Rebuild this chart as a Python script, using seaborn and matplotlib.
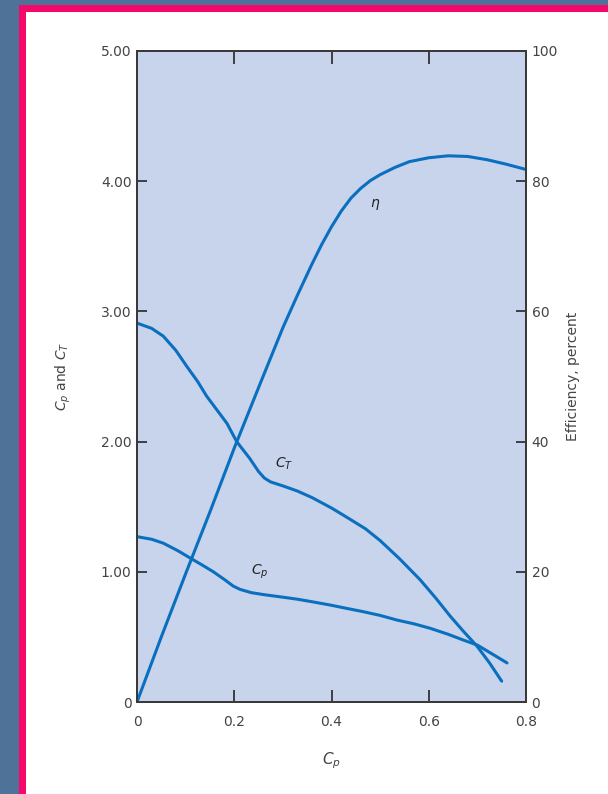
import numpy as np
import pandas as pd
import matplotlib
matplotlib.use("Agg")
import matplotlib.pyplot as plt
import seaborn as sns
from matplotlib.patches import Rectangle

# ---- data ----
eta_x = [0, 0.05, 0.10, 0.15, 0.20, 0.25, 0.30, 0.33, 0.36, 0.38, 0.40, 0.42, 0.44, 0.46,
         0.48, 0.50, 0.53, 0.56, 0.60, 0.64, 0.68, 0.72, 0.76, 0.80]
eta_y = [0, 10.0, 19.7, 29.2, 39.0, 48.3, 57.5, 62.5, 67.3, 70.3, 73.0, 75.4, 77.4, 78.9,
         80.1, 81.0, 82.1, 83.0, 83.6, 83.9, 83.8, 83.3, 82.6, 81.8]

ct_x = [0, 0.03, 0.054, 0.08, 0.102, 0.125, 0.143, 0.165, 0.185, 0.205, 0.232, 0.25, 0.262,
        0.275, 0.30, 0.33, 0.36, 0.40, 0.431, 0.47, 0.50, 0.54, 0.582, 0.614, 0.644, 0.672,
        0.699, 0.725, 0.75]
ct_y = [2.91, 2.87, 2.81, 2.70, 2.58, 2.46, 2.35, 2.24, 2.14, 2.00, 1.87, 1.77, 1.72,
        1.69, 1.66, 1.62, 1.57, 1.49, 1.42, 1.33, 1.24, 1.10, 0.94, 0.80, 0.66, 0.54,
        0.43, 0.30, 0.16]

cp_x = [0, 0.03, 0.054, 0.085, 0.112, 0.135, 0.157, 0.18, 0.198, 0.212, 0.235, 0.26, 0.30,
        0.329, 0.36, 0.397, 0.43, 0.465, 0.50, 0.534, 0.57, 0.603, 0.64, 0.671, 0.70, 0.73, 0.761]
cp_y = [1.27, 1.25, 1.22, 1.16, 1.10, 1.05, 1.00, 0.94, 0.89, 0.865, 0.84, 0.825, 0.805,
        0.79, 0.77, 0.745, 0.72, 0.694, 0.665, 0.63, 0.60, 0.566, 0.52, 0.476, 0.437, 0.37, 0.30]

x_ticks = [0, 0.2, 0.4, 0.6, 0.8]
x_ticklabels = ["0", "0.2", "0.4", "0.6", "0.8"]
left_ticks = [0, 1, 2, 3, 4, 5]
left_ticklabels = ["0", "1.00", "2.00", "3.00", "4.00", "5.00"]
right_ticks = [0, 20, 40, 60, 80, 100]
right_ticklabels = ["0", "20", "40", "60", "80", "100"]

df_eta = pd.DataFrame({"x": eta_x, "y": eta_y})
df_ct = pd.DataFrame({"x": ct_x, "y": ct_y})
df_cp = pd.DataFrame({"x": cp_x, "y": cp_y})

sns.set_theme(style="white")
plt.rcParams["font.family"] = ["DejaVu Sans"]

W, H = 608, 794
fig = plt.figure(figsize=(W / 100, H / 100), dpi=100)
fig.patch.set_facecolor("#4f7299")

# pink frame and white panel
fig.patches.append(Rectangle((19 / W, 0), 1, 1 - 5 / H, transform=fig.transFigure,
                             facecolor="#f5086a", edgecolor="none", zorder=-3))
fig.patches.append(Rectangle((26 / W, 0), 1, 1 - 12 / H, transform=fig.transFigure,
                             facecolor="white", edgecolor="none", zorder=-2))

ax = fig.add_axes([137 / W, 1 - 702 / H, (526 - 137) / W, (702 - 51) / H])
ax.set_facecolor("#c7d4ec")
ax2 = ax.twinx()

line_color = "#0b6fbf"
sns.lineplot(data=df_ct, x="x", y="y", ax=ax, color=line_color, lw=2.2, sort=False)
sns.lineplot(data=df_cp, x="x", y="y", ax=ax, color=line_color, lw=2.2, sort=False)
sns.lineplot(data=df_eta, x="x", y="y", ax=ax2, color=line_color, lw=2.2, sort=False)

ax.set_xlim(0, 0.8)
ax.set_ylim(0, 5)
ax2.set_ylim(0, 100)

txt_color = "#444444"
fs = 10
ax.set_xticks(x_ticks)
ax.set_xticklabels(x_ticklabels, color=txt_color, fontsize=fs)
ax.set_yticks(left_ticks)
ax.set_yticklabels(left_ticklabels, color=txt_color, fontsize=fs)
ax2.set_yticks(right_ticks)
ax2.set_yticklabels(right_ticklabels, color=txt_color, fontsize=fs)

ax.tick_params(axis="x", direction="in", length=9, width=1.3, color="#333333",
               top=True, bottom=True, pad=9)
ax.tick_params(axis="y", direction="in", length=7, width=1.3, color="#333333",
               left=True, right=False, pad=4)
ax2.tick_params(axis="y", direction="in", length=7, width=1.3, color="#333333",
                right=True, pad=4)

for a in (ax, ax2):
    for s in a.spines.values():
        s.set_color("#3a3a3a")
        s.set_linewidth(1.4)

ax.set_xlabel("$C_p$", color=txt_color, fontsize=fs + 1, labelpad=16)
ax.set_ylabel("$C_p$ and $C_T$", color=txt_color, fontsize=fs, labelpad=20)
ax2.set_ylabel("Efficiency, percent", color=txt_color, fontsize=fs, rotation=90, labelpad=6)

ax.text(0.48, 3.80, r"$\eta$", color="#222222", fontsize=fs)
ax.text(0.283, 1.80, "$C_T$", color="#222222", fontsize=fs)
ax.text(0.235, 0.98, "$C_p$", color="#222222", fontsize=fs)

fig.savefig("out.png", dpi=100, facecolor=fig.get_facecolor())
